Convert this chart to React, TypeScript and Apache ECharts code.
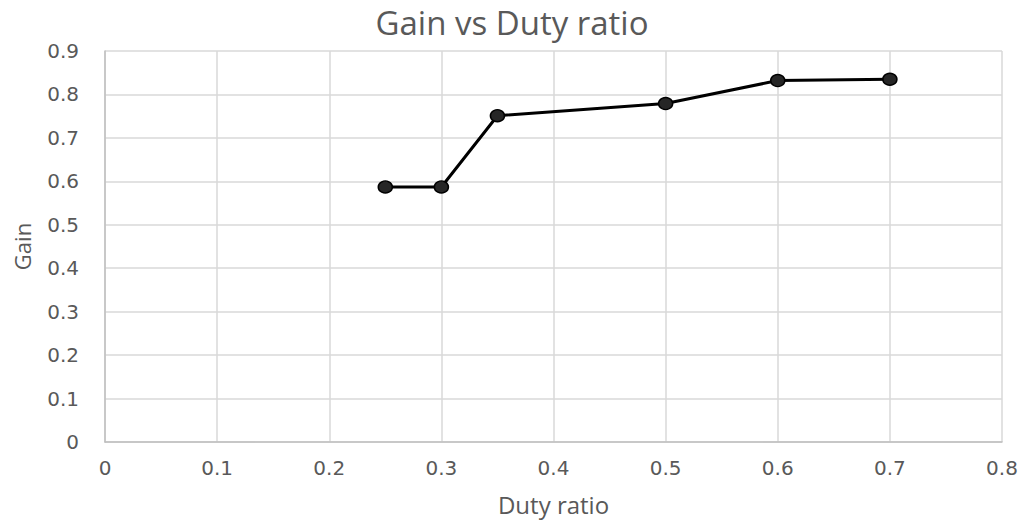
import React, { useEffect, useRef } from "react";
import * as echarts from "echarts";

const dutyRatio = [0.25, 0.3, 0.35, 0.5, 0.6, 0.7];
const gain = [0.587, 0.587, 0.751, 0.779, 0.832, 0.835];

const titleText = "Gain vs Duty ratio";
const xName = "Duty ratio";
const yName = "Gain";

export default function App() {
  const ref = useRef<HTMLDivElement>(null);
  useEffect(() => {
    if (!ref.current) return;
    const chart = echarts.init(ref.current, null, { renderer: "svg" });
    chart.setOption({
      animation: false,
      backgroundColor: "#ffffff",
      title: {
        text: titleText,
        left: "center",
        top: 1,
        textStyle: {
          fontFamily: "Open Sans",
          fontSize: 33,
          fontWeight: "normal",
          color: "#595959",
        },
      },
      grid: { left: 105, right: 22, top: 51, bottom: 77 },
      xAxis: {
        type: "value",
        min: 0,
        max: 0.8,
        interval: 0.1,
        name: xName,
        nameLocation: "middle",
        nameGap: 50,
        nameTextStyle: { fontFamily: "Open Sans", fontSize: 24, color: "#595959" },
        axisLine: { show: true, lineStyle: { color: "#bfbfbf", width: 1.5 } },
        axisTick: { show: false },
        axisLabel: {
          margin: 16,
          fontFamily: "DejaVu Sans",
          fontSize: 20,
          color: "#595959",
          formatter: (v: number) => String(Math.round(v * 10) / 10),
        },
        splitLine: { show: true, lineStyle: { color: "#d9d9d9", width: 1.5 } },
      },
      yAxis: {
        type: "value",
        min: 0,
        max: 0.9,
        interval: 0.1,
        name: yName,
        nameLocation: "middle",
        nameGap: 72,
        nameRotate: 90,
        nameTextStyle: { fontFamily: "Open Sans", fontSize: 22, color: "#595959" },
        axisLine: { show: true, lineStyle: { color: "#bfbfbf", width: 1.5 } },
        axisTick: { show: false },
        axisLabel: {
          margin: 26,
          fontFamily: "DejaVu Sans",
          fontSize: 20,
          color: "#595959",
          formatter: (v: number) => String(Math.round(v * 10) / 10),
        },
        splitLine: { show: true, lineStyle: { color: "#d9d9d9", width: 1.5 } },
      },
      series: [
        {
          type: "line",
          data: dutyRatio.map((d, i) => [d, gain[i]]),
          symbol: "circle",
          symbolSize: [14, 12],
          lineStyle: { color: "#000000", width: 3 },
          itemStyle: { color: "#262626", borderColor: "#000000", borderWidth: 1.5 },
        },
      ],
    });
    return () => chart.dispose();
  }, []);
  return <div ref={ref} style={{ width: 1024, height: 521, position: "absolute", left: 0, top: 0 }} />;
}
